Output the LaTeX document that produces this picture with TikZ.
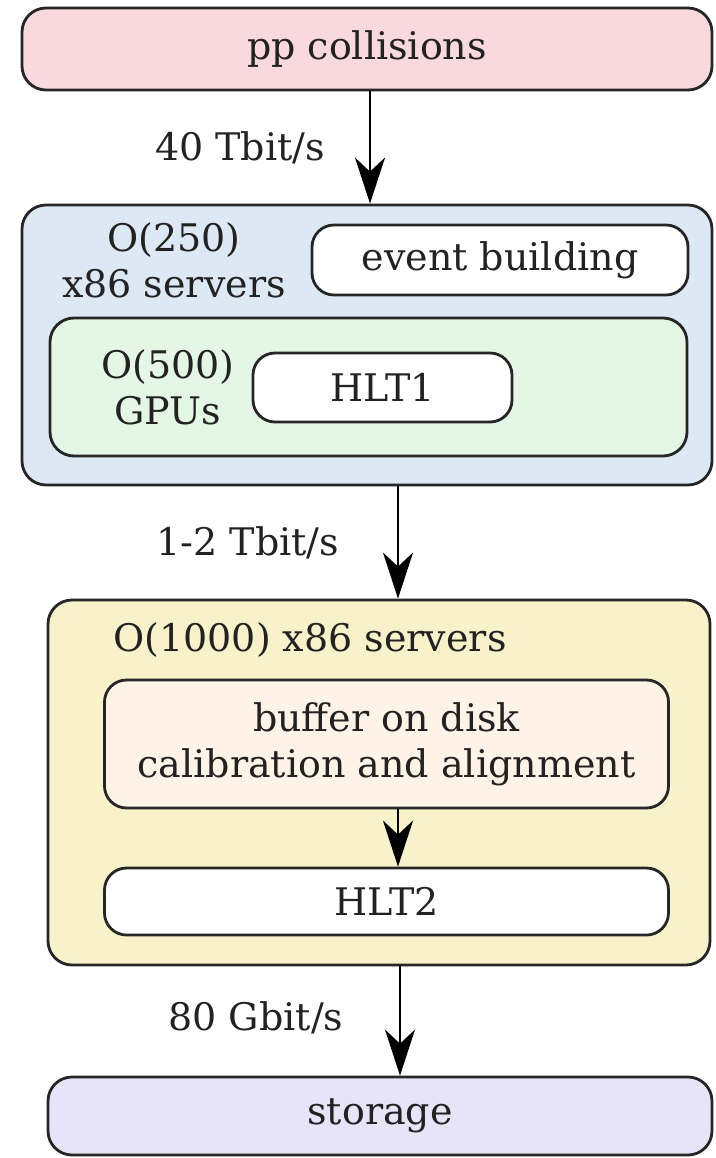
\documentclass[tikz,border=0pt]{standalone}
\usepackage{fontspec}
\setmainfont{DejaVu Serif}
\usetikzlibrary{arrows.meta}
\definecolor{cpink}{HTML}{F9D9DD}
\definecolor{cblue}{HTML}{DCE8F4}
\definecolor{cgreen}{HTML}{E4F6E4}
\definecolor{cyellow}{HTML}{F8F2CA}
\definecolor{ccream}{HTML}{FDF4E7}
\definecolor{clav}{HTML}{E7E3F8}
\definecolor{ctext}{HTML}{222222}
\tikzset{
  box/.style={draw=black!85, line width=2.8pt, rounded corners=24pt, rectangle, inner sep=0pt, text=ctext},
  lbl/.style={align=center, text=ctext, inner sep=0pt},
  arr/.style={line width=2.4pt, -{Stealth[length=46pt, width=30pt, inset=14pt]}},
}
\begin{document}
\begin{tikzpicture}[x=1pt, y=-1pt, font=\fontsize{38}{46}\selectfont]
\useasboundingbox (0,0) rectangle (715,1158);
% top
\node[box, fill=cpink, minimum width=690pt, minimum height=82pt] (pp) at (367,49) {pp collisions};
% blue group
\node[box, fill=cblue, minimum width=690pt, minimum height=280pt] (blue) at (367,345) {};
\node[box, fill=white, minimum width=376pt, minimum height=70pt, rounded corners=22pt] (ev) at (500,260) {event building};
\node[lbl] (srv1) at (174,260) {O(250)\\x86 servers};
\node[box, fill=cgreen, minimum width=637pt, minimum height=138pt] (green) at (368.5,387) {};
\node[lbl] (gpu) at (168,387) {O(500)\\GPUs};
\node[box, fill=white, minimum width=259pt, minimum height=69pt, rounded corners=22pt] (hlt1) at (382.5,387.5) {HLT1};
% yellow group
\node[box, fill=cyellow, minimum width=662pt, minimum height=365pt] (yellow) at (379,782.5) {};
\node[lbl] (srv2) at (310,640) {O(1000) x86 servers};
\node[box, fill=ccream, minimum width=564pt, minimum height=128pt, align=center, rounded corners=22pt] (buf) at (386.5,744) {buffer on disk\\calibration and alignment};
\node[box, fill=white, minimum width=564pt, minimum height=67pt, rounded corners=22pt] (hlt2) at (386.5,901.5) {HLT2};
% storage
\node[box, fill=clav, minimum width=664pt, minimum height=78pt] (sto) at (380,1116) {storage};
% arrows
\coordinate (a1) at (370,0);
\coordinate (a2) at (398,0);
\coordinate (a3) at (400,0);
\draw[arr] (pp.south -| a1) -- (blue.north -| a1);
\draw[arr] (blue.south -| a2) -- (yellow.north -| a2);
\draw[arr] (buf.south -| a2) -- (hlt2.north -| a2);
\draw[arr] (yellow.south -| a3) -- (sto.north -| a3);
% labels
\node[lbl] (l1) at (240,148) {40 Tbit/s};
\node[lbl] (l2) at (248,543) {1-2 Tbit/s};
\node[lbl] (l3) at (256,1018) {80 Gbit/s};
\end{tikzpicture}
\end{document}
